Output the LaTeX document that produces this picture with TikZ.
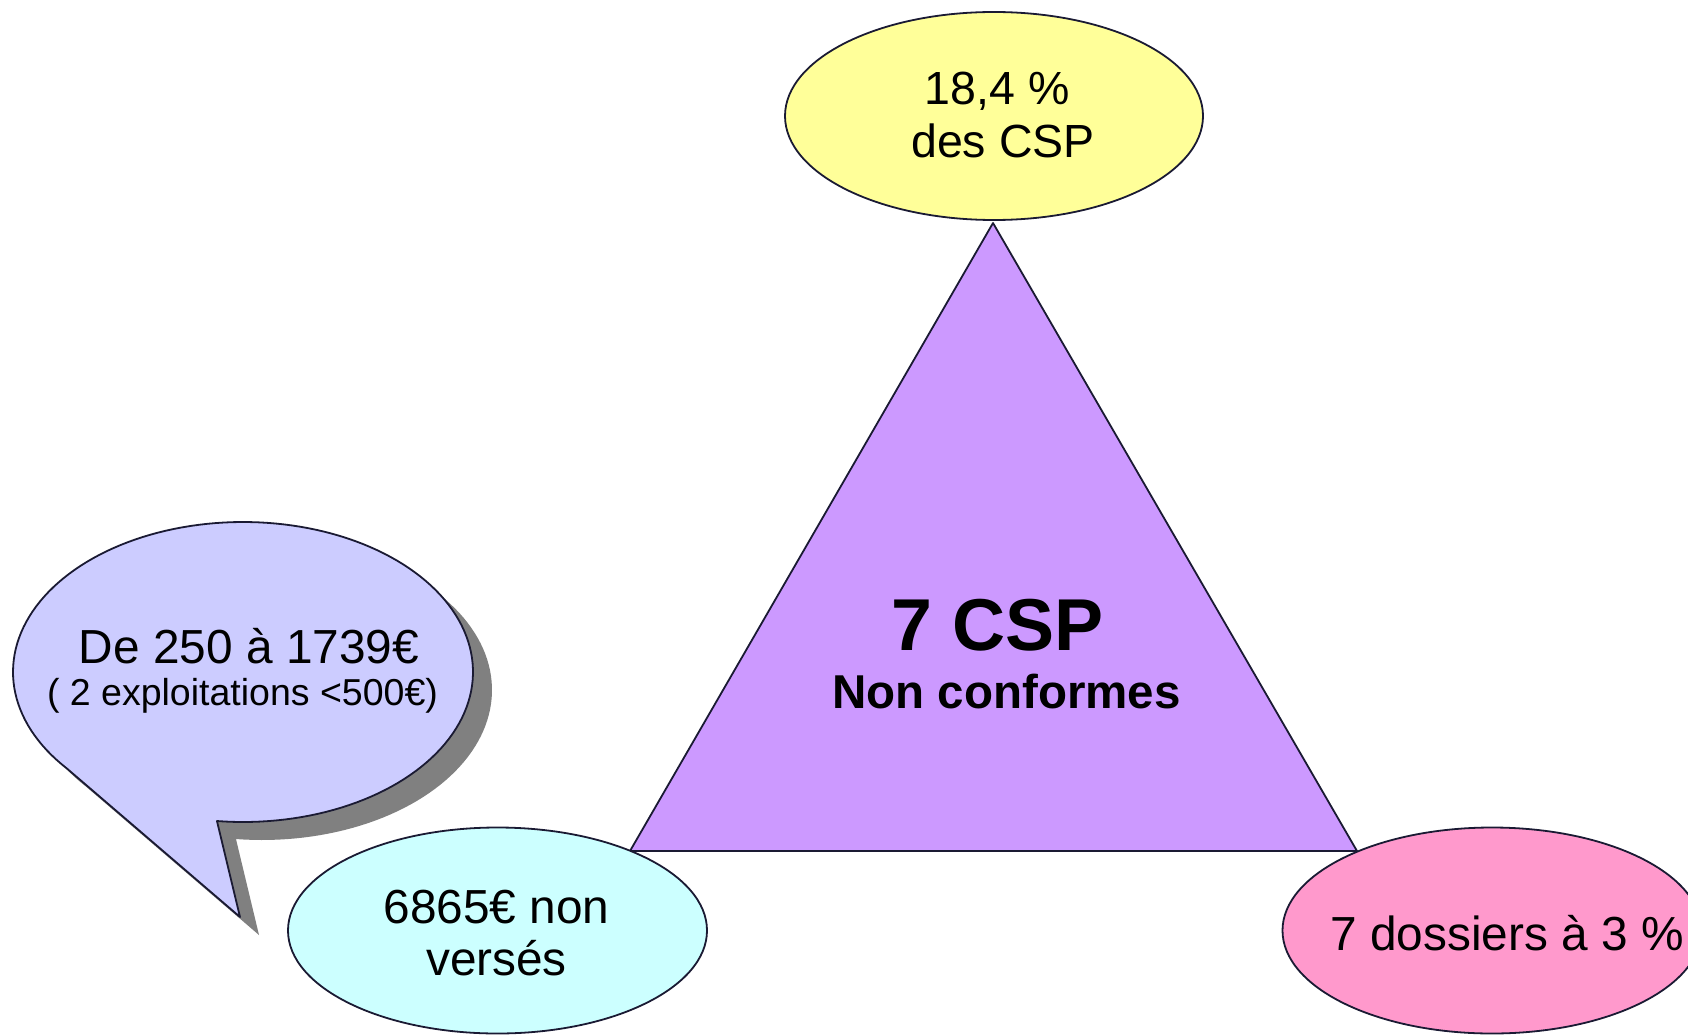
\documentclass[tikz,border=0pt]{standalone}
\usepackage{fontspec}
\setmainfont{Liberation Sans}
\usetikzlibrary{shapes.geometric}
\definecolor{edge}{HTML}{1A1A33}
\definecolor{trifill}{HTML}{CC99FF}
\definecolor{topfill}{HTML}{FFFF99}
\definecolor{cyanfill}{HTML}{CCFFFF}
\definecolor{pinkfill}{HTML}{FF99CC}
\definecolor{bubblefill}{HTML}{CCCCFF}
\definecolor{shadowgray}{HTML}{808080}
\begin{document}
\begin{tikzpicture}[x=1pt,y=-1pt,
  outline/.style={draw=edge, line width=1.8pt, line join=round},
  oval/.style={ellipse, outline, inner sep=0pt, minimum width=419pt, minimum height=206pt},
  txt/.style={anchor=base, inner sep=0pt, font=\fontsize{47.8}{54}\selectfont},
  smalltxt/.style={anchor=base, inner sep=0pt, font=\fontsize{37.5}{42}\selectfont},
  bigbold/.style={anchor=base, inner sep=0pt, font=\fontsize{73.5}{84}\selectfont\bfseries},
  midbold/.style={anchor=base, inner sep=0pt, font=\fontsize{47.5}{54}\selectfont\bfseries}]
\fill[white] (0,0) rectangle (1688,1035);
\useasboundingbox (0,0) rectangle (1688,1035);
\clip (0,0) rectangle (1688,1035);

% triangle
\coordinate (apex) at (993,223);
\coordinate (bl) at (630,851);
\coordinate (br) at (1357,851);
\filldraw[outline, fill=trifill] (apex) -- (bl) -- (br) -- cycle;

% ellipses
\node[oval, fill=topfill, minimum width=418pt, minimum height=208pt] (top) at (994,116) {};
\node[oval, fill=cyanfill] (cyan) at (497.5,930.5) {};
\node[oval, fill=pinkfill] (pink) at (1492,930.5) {};

% callout bubble with shadow
\coordinate (tip) at (240,917);
\fill[shadowgray, shift={(19,18)}] plot[domain=140:456.5, samples=150] ({243+230*cos(\x)},{672+150*sin(\x)}) -- (240,917) -- cycle;
\filldraw[outline, fill=bubblefill] plot[domain=140:456.5, samples=150] ({243+230*cos(\x)},{672+150*sin(\x)}) -- (tip) -- cycle;

% texts
\node[txt, font=\fontsize{46.5}{52}\selectfont] (topA) at (997,105) {18,4 \%};
\node[txt, font=\fontsize{46.5}{52}\selectfont] (topB) at (1003,158) {des CSP};
\node[bigbold] (mainA) at (997.5,650) {7 CSP};
\node[midbold] (mainB) at (1006.5,708) {Non conformes};
\node[txt] (bubA) at (249,663) {De 250 à 1739€};
\node[smalltxt] (bubB) at (242.5,705) {( 2 exploitations <500€)};
\node[txt] (cyanA) at (496.5,923) {6865€ non};
\node[txt] (cyanB) at (496.5,975) {versés};
\node[txt] (pinkA) at (1507,950) {7 dossiers à 3 \%};
\end{tikzpicture}
\end{document}
